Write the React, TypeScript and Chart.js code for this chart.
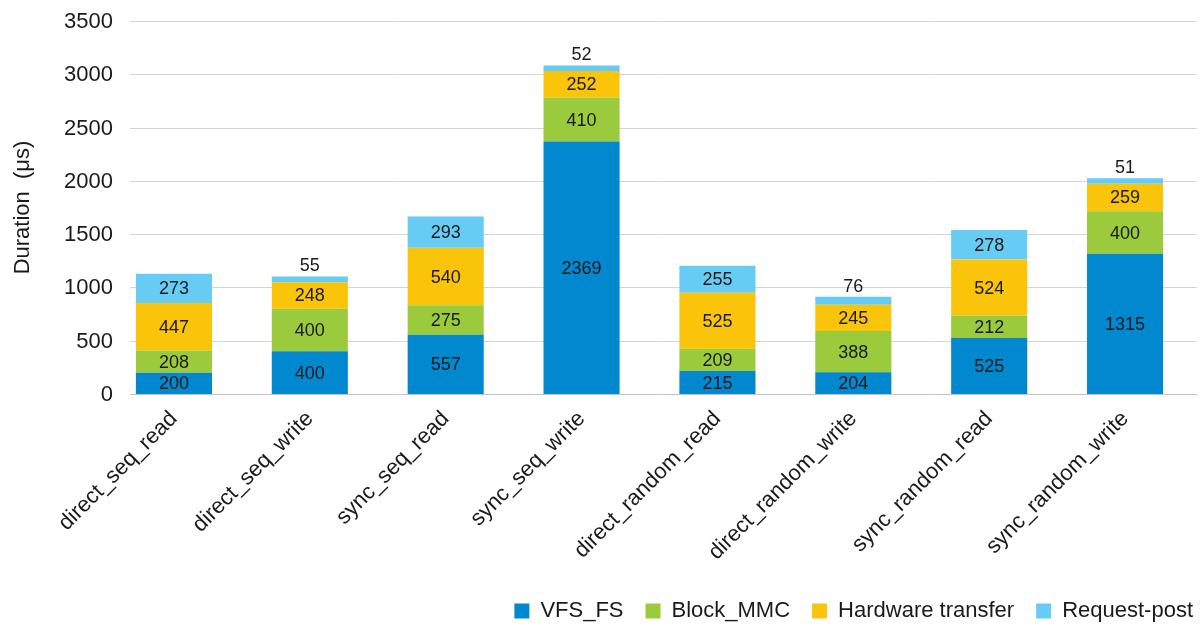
import React, { useEffect, useRef } from "react";
import { Chart, registerables } from "chart.js";

Chart.register(...registerables);

const categories = [
  "direct_seq_read",
  "direct_seq_write",
  "sync_seq_read",
  "sync_seq_write",
  "direct_random_read",
  "direct_random_write",
  "sync_random_read",
  "sync_random_write",
];
const vfsFs = [200, 400, 557, 2369, 215, 204, 525, 1315];
const blockMmc = [208, 400, 275, 410, 209, 388, 212, 400];
const hardwareTransfer = [447, 248, 540, 252, 525, 245, 524, 259];
const requestPost = [273, 55, 293, 52, 255, 76, 278, 51];
const seriesNames = ["VFS_FS", "Block_MMC", "Hardware transfer", "Request-post"];
const yTicks = [0, 500, 1000, 1500, 2000, 2500, 3000, 3500];

const COLORS = ["#0288CF", "#9BCA3D", "#FAC40B", "#66CCF4"];
const FONT = "'Liberation Sans', Arial, sans-serif";
const TEXT = "#1a1a1a";

const gridPlugin = {
  id: "customGrid",
  beforeDatasetsDraw(chart: any) {
    const { ctx, chartArea, scales } = chart;
    const y = scales.y;
    ctx.save();
    ctx.lineWidth = 1;
    yTicks.forEach((v) => {
      const py = Math.round(y.getPixelForValue(v)) + 0.5;
      ctx.strokeStyle = v === 0 ? "#c4c4c4" : "#d4d4d4";
      ctx.beginPath();
      ctx.moveTo(130, py);
      ctx.lineTo(chartArea.right + 4, py);
      ctx.stroke();
    });
    // y tick labels
    ctx.font = `22px ${FONT}`;
    ctx.fillStyle = TEXT;
    ctx.textAlign = "right";
    ctx.textBaseline = "middle";
    yTicks.forEach((v) => {
      ctx.fillText(String(v), 113, y.getPixelForValue(v) + 1);
    });
    ctx.restore();
  },
};

const labelPlugin = {
  id: "barLabels",
  afterDatasetsDraw(chart: any) {
    const { ctx } = chart;
    ctx.save();
    ctx.font = `18px ${FONT}`;
    ctx.fillStyle = TEXT;
    ctx.textAlign = "center";
    chart.data.datasets.forEach((ds: any, di: number) => {
      const meta = chart.getDatasetMeta(di);
      meta.data.forEach((el: any, i: number) => {
        const v = ds.data[i];
        const props = el.getProps(["x", "y", "base"], true);
        if (di === 3 && v < 100) {
          ctx.textBaseline = "bottom";
          ctx.fillText(String(v), props.x, props.y - 1);
        } else {
          ctx.textBaseline = "middle";
          ctx.fillText(String(v), props.x, (props.y + props.base) / 2 + 1);
        }
      });
    });
    ctx.restore();
  },
};

export default function App() {
  const ref = useRef<HTMLCanvasElement>(null);
  useEffect(() => {
    document.body.style.margin = "0";
    const seriesData = [vfsFs, blockMmc, hardwareTransfer, requestPost];
    const chart = new Chart(ref.current!, {
      type: "bar",
      data: {
        labels: categories,
        datasets: seriesData.map((d, i) => ({
          label: seriesNames[i],
          data: d,
          backgroundColor: COLORS[i],
          borderWidth: 0,
          categoryPercentage: 1,
          barPercentage: 0.56,
        })),
      },
      options: {
        responsive: false,
        animation: false,
        devicePixelRatio: 1,
        layout: { padding: { top: 21, right: -12, bottom: -4, left: 0 } },
        plugins: {
          legend: {
            position: "bottom",
            align: "end",
            labels: {
              boxWidth: 15,
              boxHeight: 15,
              padding: 22,
              color: TEXT,
              font: { family: FONT, size: 22 },
            },
          },
          tooltip: { enabled: false },
        },
        scales: {
          x: {
            stacked: true,
            grid: { display: false, drawTicks: false },
            border: { display: false },
            ticks: {
              maxRotation: 45,
              minRotation: 45,
              padding: 12,
              color: TEXT,
              font: { family: FONT, size: 22 },
            },
            afterFit(scale: any) {
              scale.height = 184;
            },
          },
          y: {
            stacked: true,
            min: 0,
            max: 3500,
            grid: { display: false, drawTicks: false },
            border: { display: false },
            afterBuildTicks(scale: any) {
              scale.ticks = yTicks.map((v) => ({ value: v }));
            },
            ticks: { display: false },
            title: {
              display: true,
              text: "Duration  (μs)",
              color: TEXT,
              font: { family: FONT, size: 22 },
              padding: { top: 10, bottom: 0 },
            },
            afterFit(scale: any) {
              scale.width = 106;
            },
          },
          yRight: {
            position: "right",
            display: true,
            grid: { display: false, drawTicks: false },
            border: { display: false },
            ticks: { display: false },
            afterFit(scale: any) {
              scale.width = 22;
            },
          },
        },
      },
      plugins: [gridPlugin, labelPlugin],
    });
    return () => chart.destroy();
  }, []);
  return (
    <div style={{ width: 1203, height: 628 }}>
      <canvas ref={ref} width={1203} height={628} />
    </div>
  );
}
